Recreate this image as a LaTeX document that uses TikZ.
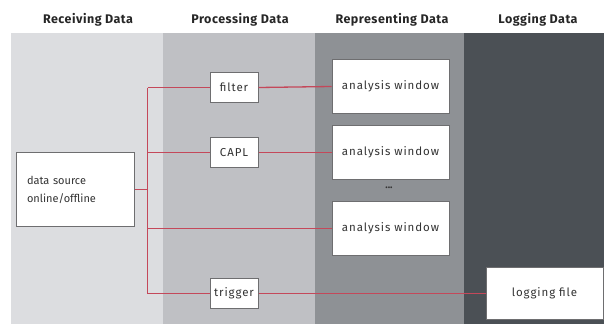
\documentclass[tikz,border=0pt]{standalone}
\usepackage{fontspec}
\setmainfont{Fira Sans}
\newfontfamily\headfont[LetterSpace=4]{Fira Sans}
\newfontfamily\boxfont[LetterSpace=8]{Fira Sans}
\definecolor{bandA}{RGB}{220,221,224}
\definecolor{bandB}{RGB}{191,192,196}
\definecolor{bandC}{RGB}{142,145,149}
\definecolor{bandD}{RGB}{75,80,85}
\definecolor{linkred}{RGB}{196,72,90}
\definecolor{boxline}{RGB}{110,110,112}
\begin{document}
\begin{tikzpicture}[x=1pt,y=-1pt,
  head/.style={font=\headfont\fontsize{12.5}{14}\selectfont\bfseries, text=black!85},
  box/.style={draw=boxline, line width=1pt, fill=white, text=black!80,
    font=\boxfont\fontsize{11.5}{13.5}\selectfont, inner sep=0pt},
  link/.style={draw=linkred, line width=1.3pt}]
\useasboundingbox (0,0) rectangle (604,324);
\fill[white] (0,0) rectangle (604,324);
% column bands
\fill[bandA] (11,33) rectangle (163,324);
\fill[bandB] (163,33) rectangle (315,324);
\fill[bandC] (315,33) rectangle (464,324);
\fill[bandD] (464,33) rectangle (604,324);
% column headings
\node[head] (h1) at (88,20) {Receiving Data};
\node[head] (h2) at (240,20) {Processing Data};
\node[head] (h3) at (392,20) {Representing Data};
\node[head] (h4) at (538,20) {Logging Data};
% boxes
\node[box, minimum width=118, minimum height=74, align=left, text width=96,
  font=\fontsize{11}{18}\selectfont] (src) at (75,189.5) {data source\\online/offline};
\node[box, minimum width=48, minimum height=30] (filter) at (234,87.5) {filter};
\node[box, minimum width=48, minimum height=30] (capl) at (234,152.5) {CAPL};
\node[box, minimum width=48, minimum height=30] (trigger) at (234,293.5) {trigger};
\node[box, minimum width=117, minimum height=54] (aw1) at (390.5,86.5) {analysis window};
\node[box, minimum width=117, minimum height=54] (aw2) at (390.5,152.5) {analysis window};
\node[box, minimum width=117, minimum height=54] (aw3) at (390.5,228.5) {analysis window};
\node[font=\fontsize{10}{10}\selectfont\bfseries, text=black!80] (dots) at (389,188) {...};
\node[box, minimum width=117, minimum height=52] (log) at (544.5,293.5) {logging file};
% distribution bus
\coordinate (bt) at (147.5,87.5);
\coordinate (bm) at (147.5,189.5);
\coordinate (bc) at (147.5,152.5);
\coordinate (bw) at (147.5,228.5);
\coordinate (bb) at (147.5,293.5);
\draw[link] (bt) -- (bb);
\draw[link] (src.east) -- (bm);
\draw[link] (bt) -- (filter.west);
\draw[link] (filter.east) -- (aw1.west);
\draw[link] (bc) -- (capl.west);
\draw[link] (capl.east) -- (aw2.west);
\draw[link] (bw) -- (aw3.west);
\draw[link] (bb) -- (trigger.west);
\draw[link] (trigger.east) -- (log.west);
\end{tikzpicture}
\end{document}
